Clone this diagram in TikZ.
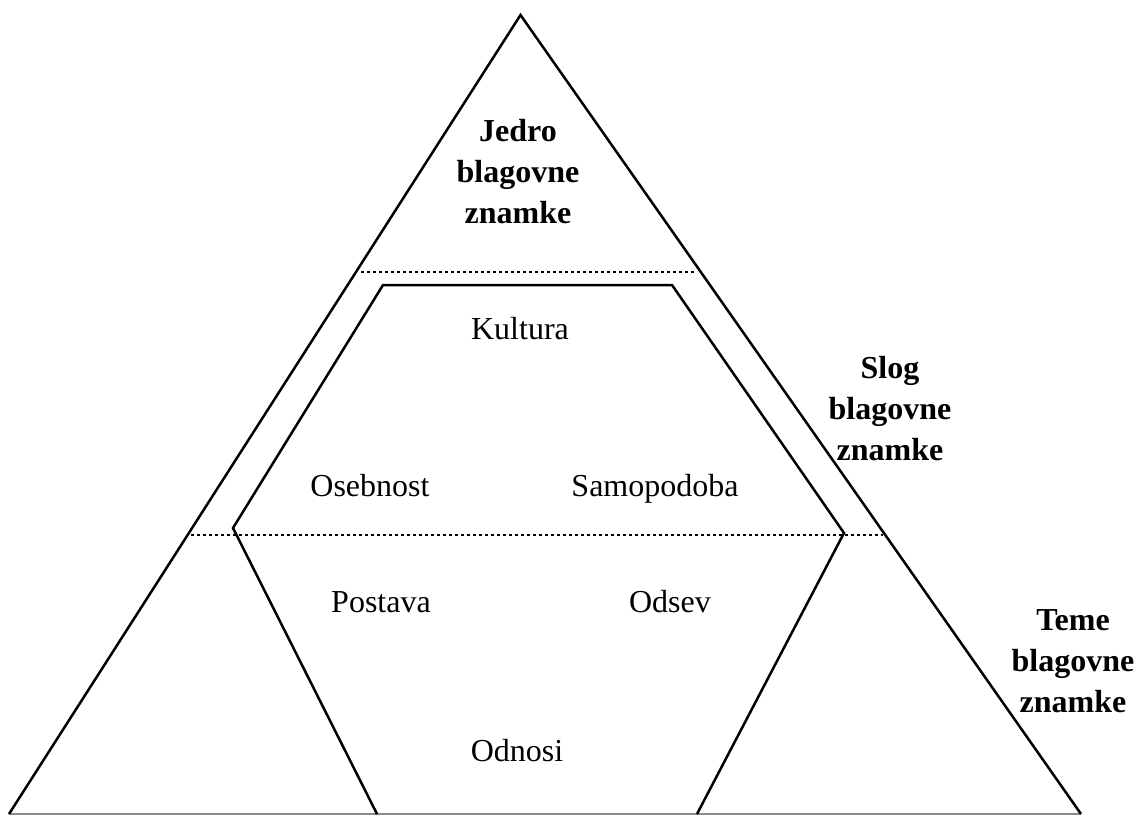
\documentclass[tikz,border=0pt]{standalone}
\usepackage{fontspec}
\setmainfont{Liberation Serif}
\begin{document}
\begin{tikzpicture}[x=1pt,y=-1pt,
  edge/.style={line width=2.5pt, line join=miter},
  baseline/.style={line width=1.6pt, draw=black!45},
  dotline/.style={line width=2.7pt, dash pattern=on 2.7pt off 3.3pt},
  heading/.style={font=\fontsize{32}{41}\selectfont\bfseries, align=center, inner sep=0pt},
  item/.style={font=\fontsize{32}{38}\selectfont, inner sep=0pt, text height=22pt, text depth=7pt}]
\useasboundingbox (0,0) rectangle (1144,815);
% triangle
\coordinate (apex) at (520.5,15);
\coordinate (bl) at (9,814);
\coordinate (br) at (1081,814);
% hexagon
\coordinate (hbl) at (377,814);
\coordinate (hl) at (233,528);
\coordinate (htl) at (383,285);
\coordinate (htr) at (672,285);
\coordinate (hr) at (844,533);
\coordinate (hbr) at (697,814);
% dotted line ends
\coordinate (d1a) at (361,272);
\coordinate (d1b) at (695,272);
\coordinate (d2a) at (191,535);
\coordinate (d2b) at (883,535);

\draw[baseline] (bl) -- (br);
\draw[edge] (bl) -- (apex) -- (br);
\draw[edge] (hbl) -- (hl) -- (htl) -- (htr) -- (hr) -- (hbr);
\draw[dotline] (d1a) -- (d1b);
\draw[dotline] (d2a) -- (d2b);

\node[heading] (jedro) at (518,172) {Jedro\\blagovne\\znamke};
\node[heading] (slog) at (890,409) {Slog\\blagovne\\znamke};
\node[heading] (teme) at (1073,661) {Teme\\blagovne\\znamke};

\node[item] (kultura) at (520,332) {Kultura};
\node[item] (osebnost) at (370,489) {Osebnost};
\node[item] (samopodoba) at (655,489) {Samopodoba};
\node[item] (postava) at (381,605) {Postava};
\node[item] (odsev) at (670,605) {Odsev};
\node[item] (odnosi) at (517,754) {Odnosi};
\end{tikzpicture}
\end{document}
